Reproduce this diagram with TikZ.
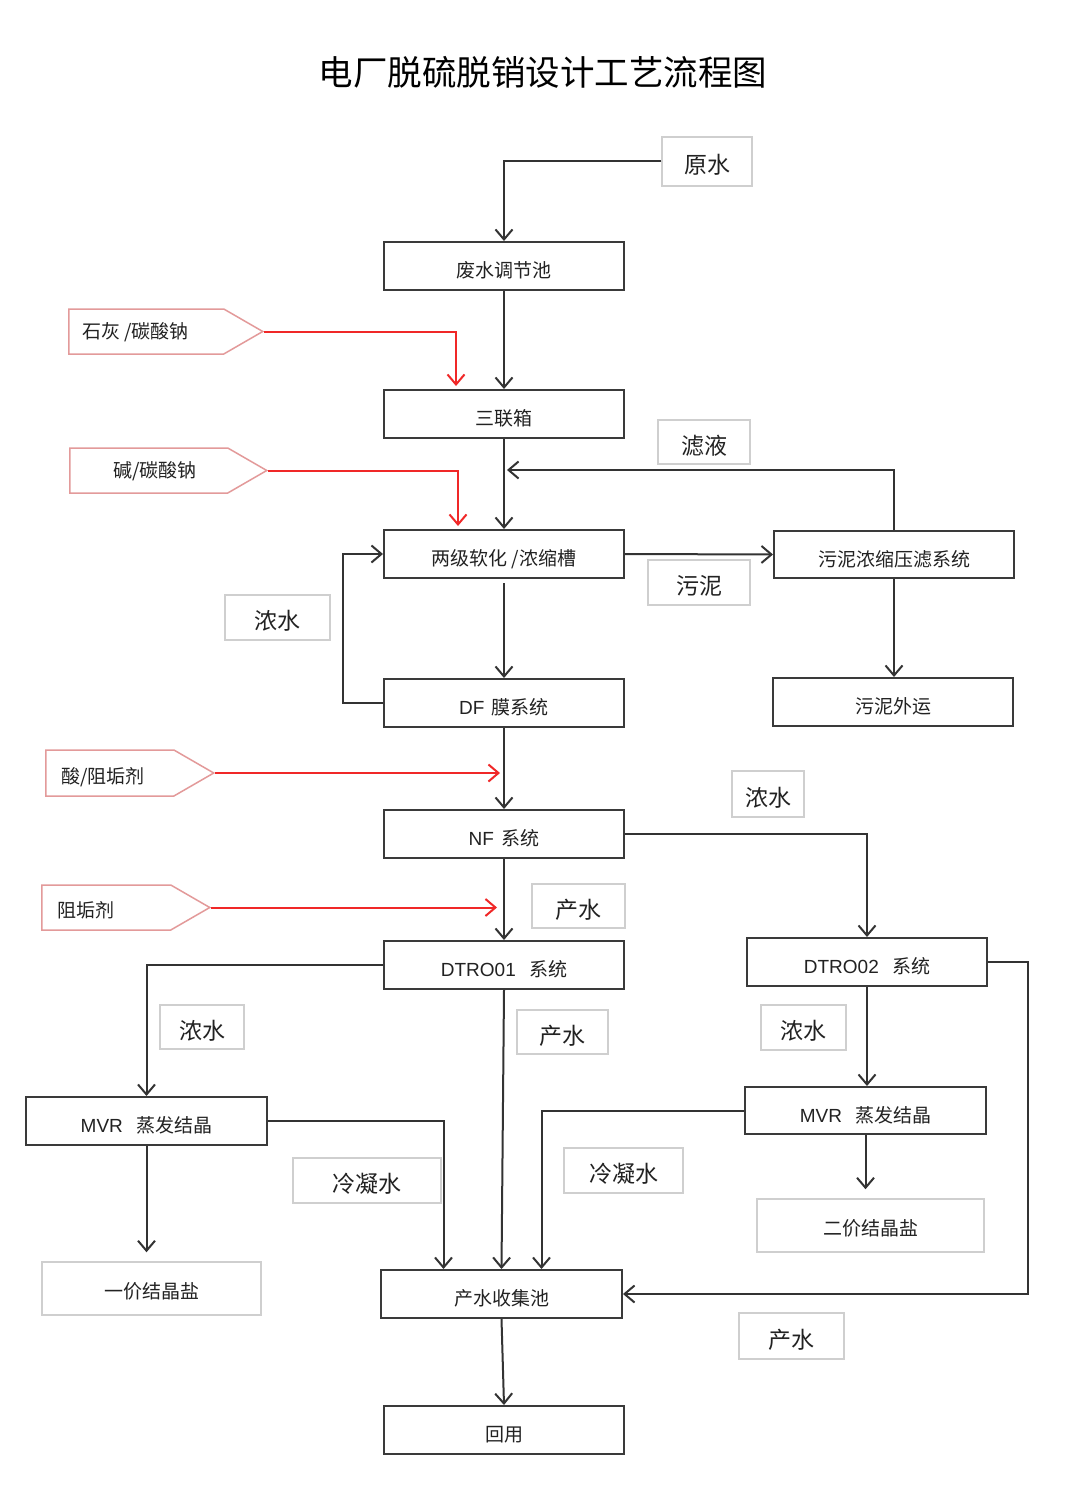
\documentclass[tikz,border=0pt]{standalone}
\usepackage{fontspec}
\setmainfont{Noto Sans CJK SC}
\newfontfamily\lat{Liberation Sans}
\usetikzlibrary{arrows.meta,shapes.symbols}
\definecolor{boxc}{HTML}{3A3A3A}
\definecolor{linec}{HTML}{333333}
\definecolor{lblc}{HTML}{CFCFCF}
\definecolor{feedc}{HTML}{E39A9A}
\definecolor{redc}{HTML}{F02828}
\definecolor{txt}{HTML}{222222}
\begin{document}
\begin{tikzpicture}[x=1pt,y=-1pt,
  box/.style={draw=boxc, line width=2pt, minimum width=240pt, minimum height=48pt, inner sep=0pt,
    text height=23pt, text depth=0pt,
    font=\fontsize{19}{23}\selectfont, text=txt},
  lbl/.style={draw=lblc, line width=1.5pt, inner sep=0pt, text height=24pt, text depth=0pt,
    font=\fontsize{23}{27}\selectfont, text=txt},
  feed/.style={signal, signal to=east, signal pointer angle=60, draw=feedc, line width=1.5pt,
    minimum height=45pt, inner sep=0pt, anchor=west},
  ftext/.style={font=\fontsize{19}{23}\selectfont, text=txt, inner sep=0pt},
  link/.style={draw=linec, line width=2pt},
  flow/.style={link, -{Straight Barb[length=10pt,width=17pt]}},
  redflow/.style={draw=redc, line width=2pt, -{Straight Barb[length=10pt,width=17pt]}}
]
\useasboundingbox[fill=white] (0,0) rectangle (1079,1506);

% title
\node[font=\fontsize{34.5}{40}\selectfont, text=black] (title) at (543,72) {电厂脱硫脱销设计工艺流程图};

% main boxes
\node[box] (tank) at (504,266) {废水调节池};
\node[box] (sanlian) at (504,414) {三联箱};
\node[box] (soft) at (504,554) {两级软化 /浓缩槽};
\node[box, minimum height=47pt] (sludge) at (894,554.5) {污泥浓缩压滤系统};
\node[box] (haul) at (893,702) {污泥外运};
\node[box] (df) at (504,703) {{\lat DF}\hspace{0.4em}膜系统};
\node[box] (nf) at (504,834) {{\lat NF}\hspace{0.4em}系统};
\node[box] (dtro1) at (504,965) {{\lat DTRO01}\hspace{0.7em}系统};
\node[box] (dtro2) at (867,962) {{\lat DTRO02}\hspace{0.7em}系统};
\node[box, minimum width=241pt, minimum height=47pt] (mvr2) at (865.5,1110.5) {{\lat MVR}\hspace{0.7em}蒸发结晶};
\node[box, minimum width=241pt] (mvr1) at (146.5,1121) {{\lat MVR}\hspace{0.7em}蒸发结晶};
\node[box, minimum width=241pt] (collect) at (501.5,1294) {产水收集池};
\node[box] (reuse) at (504,1430) {回用};

% light label boxes
\node[lbl, minimum width=90pt, minimum height=49pt] (raw) at (707,161.5) {原水};
\node[lbl, minimum width=92pt, minimum height=44pt] (filt) at (704,442) {滤液};
\node[lbl, minimum width=102pt, minimum height=45pt] (mud) at (699,582.5) {污泥};
\node[lbl, minimum width=105pt, minimum height=45pt] (con1) at (277.5,617.5) {浓水};
\node[lbl, minimum width=72pt, minimum height=46pt] (con2) at (768,794) {浓水};
\node[lbl, minimum width=93pt, minimum height=44pt] (prod1) at (578.5,906) {产水};
\node[lbl, minimum width=84pt, minimum height=44pt] (con3) at (202,1027) {浓水};
\node[lbl, minimum width=91pt, minimum height=44pt] (prod2) at (562.5,1032) {产水};
\node[lbl, minimum width=85pt, minimum height=45pt] (con4) at (803.5,1027.5) {浓水};
\node[lbl, minimum width=119pt, minimum height=45pt] (cond2) at (623.5,1170.5) {冷凝水};
\node[lbl, minimum width=148pt, minimum height=45pt] (cond1) at (367,1180.5) {冷凝水};
\node[lbl, minimum width=227pt, minimum height=53pt, font=\fontsize{19}{23}\selectfont, text height=19pt] (salt2) at (870.5,1225.5) {二价结晶盐};
\node[lbl, minimum width=219pt, minimum height=53pt, font=\fontsize{19}{23}\selectfont, text height=19pt] (salt1) at (151.5,1288.5) {一价结晶盐};
\node[lbl, minimum width=105pt, minimum height=46pt] (prod3) at (791.5,1336) {产水};

% chemical feeds
\node[feed, minimum width=194pt] (lime) at (68,331.5) {};
\node[ftext, anchor=west] (limet) at (82,332) {石灰 /碳酸钠};
\node[feed, minimum width=197pt] (alk) at (69,470.5) {};
\node[ftext] (alkt) at (155,471) {碱/碳酸钠};
\node[feed, minimum width=168pt, minimum height=46pt] (acid) at (45,773) {};
\node[ftext, anchor=west] (acidt) at (61,777) {酸/阻垢剂};
\node[feed, minimum width=168pt] (anti) at (41,907.5) {};
\node[ftext, anchor=west] (antit) at (57,910) {阻垢剂};

% connectors
\draw[flow] (raw.west) -| (tank.north);
\draw[flow] (tank.south) -- (sanlian.north);
\draw[flow] (sanlian.south) -- (soft.north);
\coordinate (fj) at (507,470);
\draw[flow] (sludge.north) |- (fj);
\draw[flow] (soft.east) -- (sludge.west);
\draw[flow] (sludge.south) -- (haul.north -| sludge.south);
\draw[flow, shorten <=4pt] (soft.south) -- (df.north);
\draw[flow] (df.west) -- ++(-40,0) |- (soft.west);
\draw[flow] (df.south) -- (nf.north);
\draw[flow] (nf.east) -| (dtro2.north);
\draw[flow] (nf.south) -- (dtro1.north);
\draw[flow] (dtro1.west) -| (mvr1.north);
\draw[flow] (dtro1.south) -- (collect.north);
\draw[flow] (dtro2.east) -- ++(40,0) |- (collect.east);
\draw[flow] (dtro2.south) -- (mvr2.north -| dtro2.south);
\draw[flow, shorten >=9pt] (mvr2.south) -- (mvr2.south |- salt2.north);
\draw[flow] (mvr2.west) -| ([xshift=40pt]collect.north);
\draw[flow, shorten >=9pt] (mvr1.south) -- (mvr1.south |- salt1.north);
\draw[flow] (mvr1.east) -| ([xshift=-58pt]collect.north);
\draw[flow] (collect.south) -- (reuse.north);

% red feed arrows
\draw[redflow, shorten >=3pt] (lime.east) -| ([xshift=-48pt]sanlian.north);
\draw[redflow, shorten >=3pt] (alk.east) -| ([xshift=-46pt]soft.north);
\draw[redflow, shorten >=4pt] (acid.east) -- (acid.east -| df.south);
\draw[redflow, shorten >=7pt] (anti.east) -- (anti.east -| nf.south);
\end{tikzpicture}
\end{document}
